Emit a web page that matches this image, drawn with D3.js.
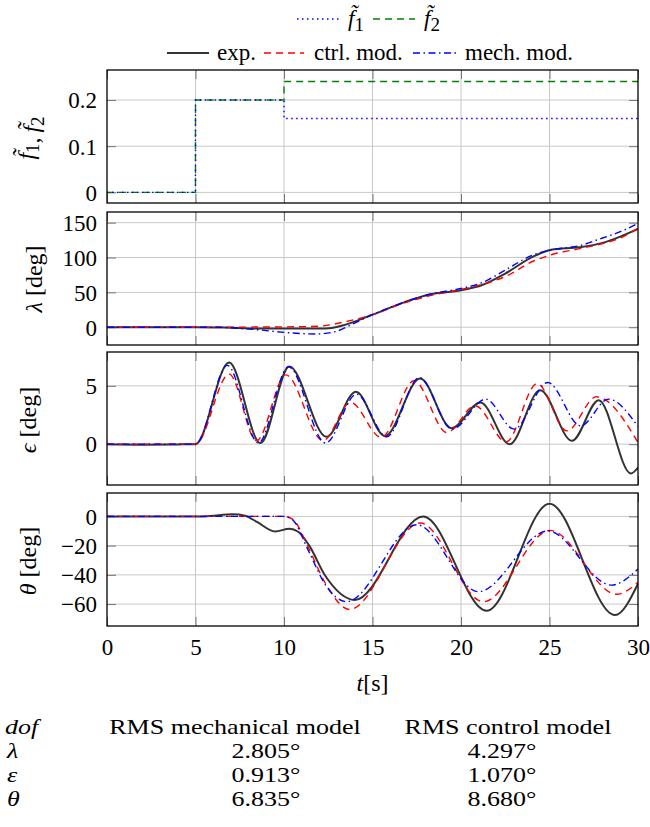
<!DOCTYPE html>
<html>
<head>
<meta charset="utf-8">
<script src="https://cdn.jsdelivr.net/npm/d3@7"></script>
<style>
  body { margin: 0; background: #fff; }
  svg text { font-family: "Liberation Serif", "Times New Roman", serif; fill: #000; }
</style>
</head>
<body>
<div id="chart"></div>
<script>
// ---- data ----
const timeTicks = [0, 5, 10, 15, 20, 25, 30];

// reference inputs (step signals)
const f1 = [[0, 0], [5, 0], [5, 0.2], [10, 0.2], [10, 0.16], [30, 0.16]];
const f2 = [[0, 0], [5, 0], [5, 0.2], [10, 0.2], [10, 0.24], [30, 0.24]];
const fTicks = [0, 0.1, 0.2];

// travel lambda [deg]
const lambdaExp = [[0, 0], [5, 0], [7, -0.8], [9, -2], [12, -2], [12.7, -1], [13.3, 2.4], [15, 18], [16.7, 35], [18.2, 47],
  [20, 53], [21.2, 60.5], [22.5, 77], [24.1, 101.6], [25.1, 111], [26.7, 114.7], [28, 121], [29, 130], [30, 141]];
const lambdaCtrl = [[0, 0], [5, 0], [10, 0.5], [12, 1.5], [13.3, 7], [15, 18], [16.7, 34], [18.2, 45], [20, 54],
  [21.2, 61.4], [22.5, 72.6], [24.1, 95], [25.1, 104], [26.7, 112.7], [28, 120], [29, 128], [30, 142]];
const lambdaMech = [[0, 0], [6, 0], [8.4, -3.4], [10.4, -8.2], [11.8, -9.7], [12.9, -6.3], [13.7, 2.4], [15, 18], [16.7, 35],
  [18.2, 47], [20, 55.6], [21.2, 64], [22.5, 82], [24.1, 104], [25.1, 111], [26.7, 117], [28, 128], [29, 137], [30, 149]];
const lambdaTicks = [0, 50, 100, 150];

// elevation epsilon [deg]
const epsExp = [[0, 0], [2, -0.04], [4, -0.02], [5, 0], [6.9, 7.0], [8.67, 0.09], [10.3, 6.66], [12.4, 0.63], [14.06, 4.49],
  [15.7, 0.71], [17.69, 5.63], [19.47, 1.37], [21.1, 3.57], [22.75, 0.0], [24.47, 4.63], [26.27, 0.29], [27.78, 3.77],
  [29.6, -2.51], [30, -2.0]];
const epsCtrl = [[0, 0], [5, 0], [6.9, 6.0], [8.45, 0.3], [10.1, 5.94], [12.2, 0.3], [13.76, 3.57], [15.5, 0.57], [17.35, 5.43],
  [19.2, 1.0], [20.8, 3.3], [22.55, 0.2], [24.3, 5.2], [25.98, 1.14], [27.65, 4.06], [30, 0.15]];
const epsMech = [[0, 0], [5, 0], [6.8, 6.75], [8.55, 0.1], [10.25, 6.63], [12.35, 0.1], [14.1, 4.29], [15.8, 0.63], [17.65, 5.71],
  [19.5, 1.29], [21.4, 3.86], [23.0, 1.29], [24.9, 5.29], [26.76, 1.57], [28.33, 3.86], [30, 1.5]];
const epsTicks = [0, 5];

// pitch theta [deg]
const thetaExp = [[0, 0], [5.5, 0], [7.1, 1.5], [7.8, 0.5], [8.5, -4], [9.5, -10.3], [10.3, -8.5], [10.8, -10.5], [11.4, -19.5],
  [12.35, -41], [14.0, -57.2], [17.87, 0], [21.45, -64.6], [25.0, 8.7], [28.7, -67.5], [30, -46]];
const thetaCtrl = [[0, 0], [10, 0], [10.5, -2], [11.4, -22], [12.35, -46], [13.7, -63.7], [17.7, -4.5], [21.26, -58.4],
  [25.03, -9.6], [28.8, -53.3], [30, -45]];
const thetaMech = [[0, 0], [10, 0], [10.5, -2.5], [11.4, -24], [12.35, -47], [13.54, -58.4], [17.5, -5.7], [20.98, -51.5],
  [24.9, -10], [28.5, -47], [30, -36]];
const thetaTicks = [0, -20, -40, -60];

// RMS table
const tableHead = ["RMS mechanical model", "RMS control model"];
const tableDof = ["λ", "ε", "θ"];
const rmsMech = ["2.805°", "0.913°", "6.835°"];
const rmsCtrl = ["4.297°", "1.070°", "8.680°"];

// ---- layout ----
const width = 650, height = 827;
const left = 107, right = 638, panelH = 133;
const fs = 23;
const serif = "Liberation Serif";

const styles = {
  exp:  { stroke: "#333333", width: 2, dash: null },
  ctrl: { stroke: "#ff0000", width: 1.4, dash: "7,5" },
  mech: { stroke: "#0000ff", width: 1.4, dash: "7,3.5,1.5,3.5" },
  f1:   { stroke: "#0000ff", width: 1.4, dash: "1.5,3.5" },
  f2:   { stroke: "#008000", width: 1.4, dash: "7,5" }
};

const panels = [
  { top: 70, domain: [-0.023, 0.265], ticks: fTicks, step: true, series: [["f2", f2], ["f1", f1]], label: "f", lx: 26, ly: 138 },
  { top: 212, domain: [-25.5, 165.3], ticks: lambdaTicks, series: [["exp", lambdaExp], ["ctrl", lambdaCtrl], ["mech", lambdaMech]], label: "λ", lx: 34, ly: 279 },
  { top: 352, domain: [-3.5, 7.9], ticks: epsTicks, series: [["exp", epsExp], ["ctrl", epsCtrl], ["mech", epsMech]], label: "ϵ", lx: 28, ly: 420 },
  { top: 493, domain: [-75, 16], ticks: thetaTicks, series: [["exp", thetaExp], ["ctrl", thetaCtrl], ["mech", thetaMech]], label: "θ", lx: 28, ly: 561 }
];

const svg = d3.select("#chart").append("svg")
  .attr("width", width)
  .attr("height", height);

const x = d3.scaleLinear().domain([0, 30]).range([left, right]);

function styleLine(sel, s) {
  sel.attr("fill", "none")
    .attr("stroke", s.stroke)
    .attr("stroke-width", s.width)
    .attr("stroke-dasharray", s.dash);
}

// f-tilde with subscript
function fTilde(t, sub, size) {
  t.append("tspan").attr("font-style", "italic").text("f\u0303");
  t.append("tspan").attr("font-size", size - 5).attr("dy", 5).text(sub);
  t.append("tspan").attr("dy", -5).text("");
}

panels.forEach((p, i) => {
  const y = d3.scaleLinear().domain(p.domain).range([p.top + panelH, p.top]);
  const g = svg.append("g");

  // grid
  g.append("g").selectAll("line").data(timeTicks.slice(1, -1)).enter().append("line")
    .attr("x1", d => x(d)).attr("x2", d => x(d))
    .attr("y1", p.top).attr("y2", p.top + panelH)
    .attr("stroke", "#c8c8c8").attr("stroke-width", 1);
  g.append("g").selectAll("line").data(p.ticks).enter().append("line")
    .attr("x1", left).attr("x2", right)
    .attr("y1", d => y(d)).attr("y2", d => y(d))
    .attr("stroke", "#c8c8c8").attr("stroke-width", 1);

  // inner ticks on all four sides
  const tk = "#777777";
  g.append("g").attr("transform", `translate(${left},0)`)
    .call(d3.axisLeft(y).tickValues(p.ticks).tickSize(-9).tickPadding(10).tickFormat(d3.format("~g")))
    .call(a => a.select(".domain").remove())
    .call(a => a.selectAll("line").attr("stroke", tk))
    .call(a => a.selectAll("text").attr("font-size", fs).attr("font-family", serif).attr("dy", "0.34em"));
  g.append("g").attr("transform", `translate(${right},0)`)
    .call(d3.axisRight(y).tickValues(p.ticks).tickSize(-9).tickFormat(""))
    .call(a => a.select(".domain").remove())
    .call(a => a.selectAll("line").attr("stroke", tk));
  g.append("g").attr("transform", `translate(0,${p.top})`)
    .call(d3.axisTop(x).tickValues(timeTicks).tickSize(-9).tickFormat(""))
    .call(a => a.select(".domain").remove())
    .call(a => a.selectAll("line").attr("stroke", tk));
  g.append("g").attr("transform", `translate(0,${p.top + panelH})`)
    .call(d3.axisBottom(x).tickValues(timeTicks).tickSize(-9).tickPadding(13)
      .tickFormat(i === panels.length - 1 ? d3.format("d") : ""))
    .call(a => a.select(".domain").remove())
    .call(a => a.selectAll("line").attr("stroke", tk))
    .call(a => a.selectAll("text").attr("font-size", fs).attr("font-family", serif));

  // curves
  const clipId = "clip" + i;
  svg.append("clipPath").attr("id", clipId).append("rect")
    .attr("x", left).attr("y", p.top).attr("width", right - left).attr("height", panelH);
  const line = d3.line()
    .x(d => x(d[0])).y(d => y(d[1]))
    .curve(p.step ? d3.curveLinear : d3.curveMonotoneX);
  p.series.forEach(([key, data]) => {
    g.append("path").datum(data)
      .attr("clip-path", `url(#${clipId})`)
      .attr("d", line)
      .call(styleLine, styles[key]);
  });

  // frame
  g.append("rect")
    .attr("x", left).attr("y", p.top).attr("width", right - left).attr("height", panelH)
    .attr("fill", "none").attr("stroke", "#000").attr("stroke-width", 1.3);

  // y label
  const lab = svg.append("text")
    .attr("transform", `translate(${p.lx},${p.ly}) rotate(-90)`)
    .attr("text-anchor", "middle")
    .attr("dy", "0.35em")
    .attr("font-size", fs + 1);
  if (p.label === "f") {
    fTilde(lab, "1", fs + 1);
    lab.append("tspan").text(",\u2009");
    fTilde(lab, "2", fs + 1);
  } else {
    lab.append("tspan").attr("font-style", "italic").text(p.label);
    lab.append("tspan").text(" [deg]");
  }
});

// x label
const xl = svg.append("text")
  .attr("x", x(15)).attr("y", 691)
  .attr("text-anchor", "middle")
  .attr("font-size", fs + 1);
xl.append("tspan").attr("font-style", "italic").text("t");
xl.append("tspan").text("[s]");

// ---- legend ----
const legendRows = [
  { y: 19, items: [["f1", 297, 339, 348], ["f2", 373, 415, 424]] },
  { y: 53, items: [["exp", 167, 209, 217], ["ctrl", 264, 304, 314], ["mech", 413, 459, 465]] }
];
const legendText = { exp: "exp.", ctrl: "ctrl. mod.", mech: "mech. mod." };
legendRows.forEach(row => {
  row.items.forEach(([key, xa, xb, xt]) => {
    svg.append("line")
      .attr("x1", xa).attr("x2", xb).attr("y1", row.y).attr("y2", row.y)
      .call(styleLine, styles[key]);
    const t = svg.append("text").attr("x", xt).attr("y", row.y + 7).attr("font-size", fs);
    if (key === "f1" || key === "f2") {
      fTilde(t, key.slice(1), fs + 1);
    } else {
      t.text(legendText[key]);
    }
  });
});

// ---- RMS table ----
const rowY = [734, 758, 782, 806];
const tfs = 21, sx = 1.24;
function cell(cx, cy, txt, anchor, italic) {
  svg.append("text")
    .attr("transform", `translate(${cx},${cy}) scale(${sx},1)`)
    .attr("font-size", tfs)
    .attr("text-anchor", anchor)
    .attr("font-style", italic ? "italic" : null)
    .text(txt);
}
cell(5, rowY[0], "dof", "start", true);
cell(235, rowY[0], tableHead[0], "middle");
cell(508, rowY[0], tableHead[1], "middle");
tableDof.forEach((d, i) => {
  cell(7, rowY[i + 1], d, "start", true);
  cell(266, rowY[i + 1], rmsMech[i], "middle");
  cell(502, rowY[i + 1], rmsCtrl[i], "middle");
});
</script>
</body>
</html>
